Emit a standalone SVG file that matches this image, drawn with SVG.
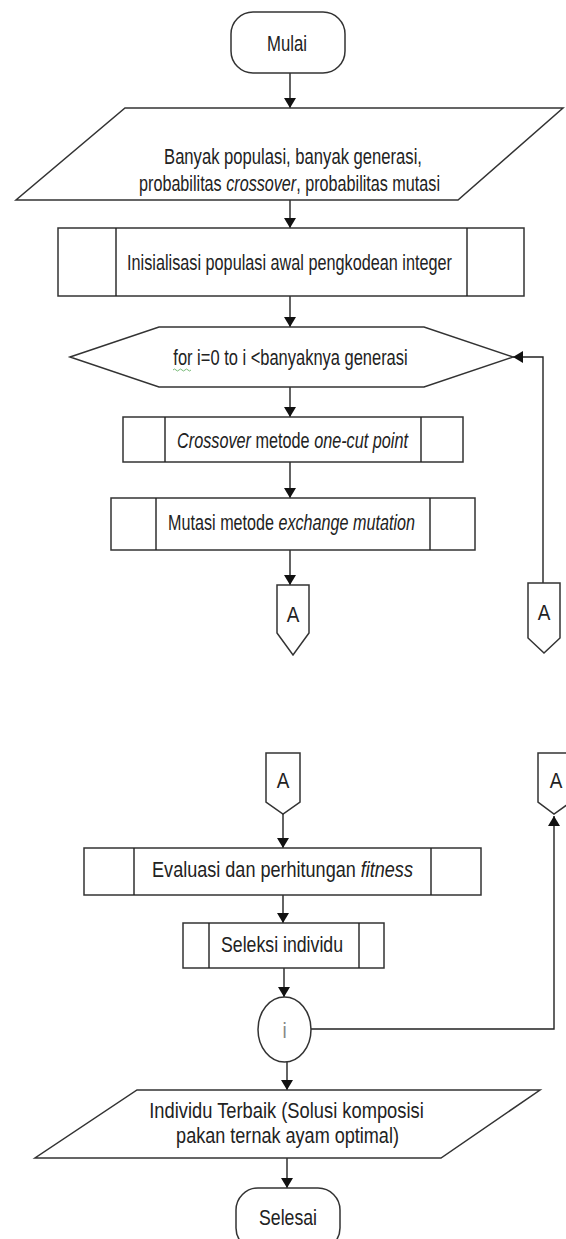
<svg xmlns="http://www.w3.org/2000/svg" width="566" height="1239" viewBox="0 0 566 1239">
<defs>
<marker id="ah" viewBox="0 0 10 12" refX="10" refY="6" markerWidth="10" markerHeight="12" markerUnits="userSpaceOnUse" orient="auto">
<path d="M0,0 L10,6 L0,12 Z" fill="#111"/>
</marker>
<style>
.s{fill:#fff;stroke:#333;stroke-width:1.5}
.t{font-family:"Liberation Sans",Arial,sans-serif;font-size:22px;fill:#222;text-anchor:middle}
.i{font-style:italic}
.c{fill:none;stroke:#222;stroke-width:1.4}
</style>
</defs>
<rect width="566" height="1239" fill="#fff"/>
<g id="connectors">
<path class="c" d="M290,73 V108" marker-end="url(#ah)"/>
<path class="c" d="M290,200 V228" marker-end="url(#ah)"/>
<path class="c" d="M290,296 V327" marker-end="url(#ah)"/>
<path class="c" d="M290,387 V417" marker-end="url(#ah)"/>
<path class="c" d="M290,462 V498" marker-end="url(#ah)"/>
<path class="c" d="M290,550 V585" marker-end="url(#ah)"/>
<path class="c" d="M543,583 V357 H513" marker-end="url(#ah)"/>
<path class="c" d="M283,814 V848" marker-end="url(#ah)"/>
<path class="c" d="M283,895 V923" marker-end="url(#ah)"/>
<path class="c" d="M284,968 V997" marker-end="url(#ah)"/>
<path class="c" d="M311,1029 H554 V816" marker-end="url(#ah)"/>
<path class="c" d="M287,1062 V1090" marker-end="url(#ah)"/>
<path class="c" d="M287,1158 V1188" marker-end="url(#ah)"/>
</g>
<g id="mulai">
<rect class="s" x="231" y="12" width="114" height="61" rx="22"/>
<text class="t" transform="translate(287,51) scale(0.76,1)">Mulai</text>
</g>
<g id="input">
<polygon class="s" points="125,108 563,108 458,200 16,200"/>
<text class="t" transform="translate(293,164) scale(0.756,1)">Banyak populasi, banyak generasi,</text>
<text class="t" transform="translate(289.5,191) scale(0.735,1)">probabilitas <tspan class="i">crossover</tspan>, probabilitas mutasi</text>
</g>
<g id="inisialisasi">
<rect class="s" x="58" y="228" width="466" height="68"/>
<path class="c" d="M116,228 V296 M467,228 V296"/>
<text class="t" transform="translate(289.5,270) scale(0.738,1)">Inisialisasi populasi awal pengkodean integer</text>
</g>
<g id="loop">
<polygon class="s" points="70,357 159,327 424,327 513,357 424,387 159,387"/>
<text class="t" transform="translate(290.5,365) scale(0.749,1)">for i=0 to i &lt;banyaknya generasi</text>
<path d="M173,370 q1.5,-2 3,0 t3,0 t3,0 t3,0 t3,0 t3,0" fill="none" stroke="#5a5" stroke-width="0.8"/>
</g>
<g id="crossover">
<rect class="s" x="123" y="417" width="340" height="45"/>
<path class="c" d="M165,417 V462 M421,417 V462"/>
<text class="t" transform="translate(292.5,448) scale(0.738,1)"><tspan class="i">Crossover</tspan> metode <tspan class="i">one-cut point</tspan></text>
</g>
<g id="mutasi">
<rect class="s" x="111" y="498" width="364" height="52"/>
<path class="c" d="M156,498 V550 M430,498 V550"/>
<text class="t" transform="translate(291.5,530) scale(0.734,1)">Mutasi metode <tspan class="i">exchange mutation</tspan></text>
</g>
<g id="conA1">
<polygon class="s" points="277,585 309,585 309,633 293,655 277,633"/>
<text class="t" transform="translate(293,622) scale(0.86,1)">A</text>
</g>
<g id="conA2">
<polygon class="s" points="528,583 560,583 560,638 544,653 528,638"/>
<text class="t" transform="translate(544,620) scale(0.86,1)">A</text>
</g>
<g id="conA3">
<polygon class="s" points="266,753 300,753 300,802 283,814 266,802"/>
<text class="t" transform="translate(283,788) scale(0.86,1)">A</text>
</g>
<g id="conA4">
<polygon class="s" points="538,753 571,753 571,802 554,814 538,802"/>
<text class="t" transform="translate(556,788) scale(0.86,1)">A</text>
</g>
<g id="evaluasi">
<rect class="s" x="84" y="848" width="397" height="47"/>
<path class="c" d="M134,848 V895 M431,848 V895"/>
<text class="t" transform="translate(282.5,877) scale(0.821,1)">Evaluasi dan perhitungan <tspan class="i">fitness</tspan></text>
</g>
<g id="seleksi">
<rect class="s" x="183" y="923" width="201" height="45"/>
<path class="c" d="M209,923 V968 M359,923 V968"/>
<text class="t" transform="translate(282,952) scale(0.805,1)">Seleksi individu</text>
</g>
<g id="sambung">
<ellipse class="s" cx="284.5" cy="1029.5" rx="26.5" ry="32.5"/>
<text class="t" transform="translate(284.5,1038) scale(0.86,1)" style="fill:#888">i</text>
</g>
<g id="output">
<polygon class="s" points="137,1090 540,1090 441,1158 35,1158"/>
<text class="t" transform="translate(286.5,1118) scale(0.833,1)">Individu Terbaik (Solusi komposisi</text>
<text class="t" transform="translate(287.5,1143) scale(0.822,1)">pakan ternak ayam optimal)</text>
</g>
<g id="selesai">
<rect class="s" x="236" y="1188" width="104" height="62" rx="22"/>
<text class="t" transform="translate(288,1225) scale(0.804,1)">Selesai</text>
</g>
</svg>
